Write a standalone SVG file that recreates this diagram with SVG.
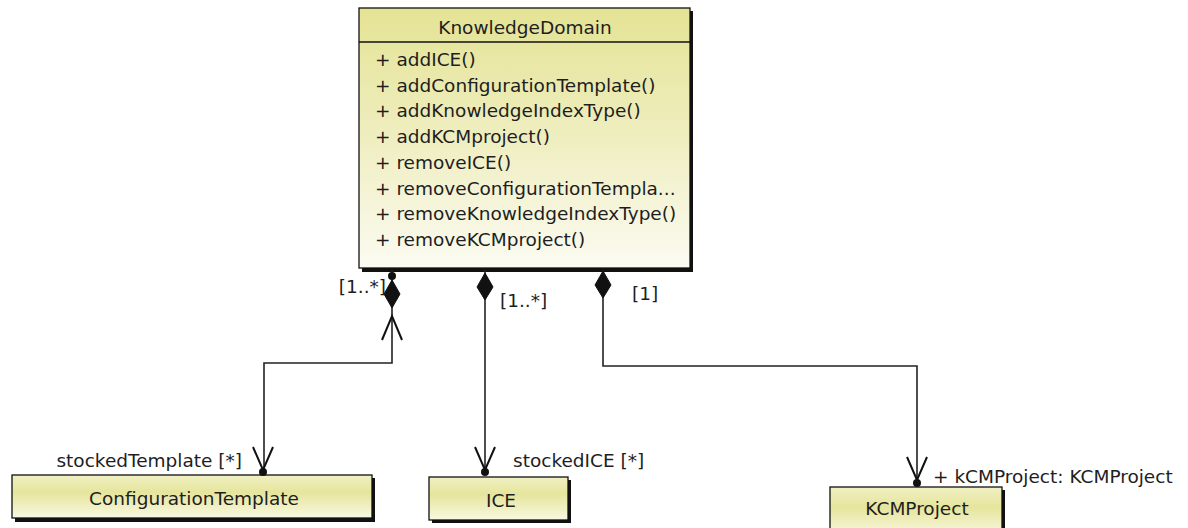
<svg xmlns="http://www.w3.org/2000/svg" width="1188" height="528" viewBox="0 0 1188 528">
<style>
text{font-family:"DejaVu Sans","Liberation Sans",sans-serif;font-size:18.5px;fill:#1e1e1e}
.c{text-anchor:middle}
.box{stroke:#111;stroke-width:1.3}
.sh{fill:#111}
.ln{fill:none;stroke:#222;stroke-width:1.6}
.arr{fill:none;stroke:#111;stroke-width:2}
.dm{fill:#111;stroke:#111;stroke-width:1}
</style>
<defs>
<linearGradient id="g1" x1="0" y1="0" x2="0" y2="1">
<stop offset="0" stop-color="#e4e394"/>
<stop offset="0.5" stop-color="#efeec0"/>
<stop offset="1" stop-color="#fbfbf2"/>
</linearGradient>
<linearGradient id="g2" x1="0" y1="0" x2="0" y2="1">
<stop offset="0" stop-color="#f0f0c4"/>
<stop offset="0.4" stop-color="#e6e59c"/>
<stop offset="1" stop-color="#f8f8e2"/>
</linearGradient>
</defs>
<rect width="1188" height="528" fill="#fff"/>
<g id="KnowledgeDomain">
<rect class="sh" x="362" y="11" width="331" height="261"/>
<rect class="box" x="359" y="8" width="331" height="260" fill="url(#g1)"/>
<line x1="359" y1="42" x2="690" y2="42" stroke="#111" stroke-width="1.3"/>
<text class="c" x="525" y="34">KnowledgeDomain</text>
<text x="375" y="66">+ addICE()</text>
<text x="375" y="91.7">+ addConfigurationTemplate()</text>
<text x="375" y="117.4">+ addKnowledgeIndexType()</text>
<text x="375" y="143">+ addKCMproject()</text>
<text x="375" y="168.8">+ removeICE()</text>
<text x="375" y="194.5">+ removeConfigurationTempla...</text>
<text x="375" y="220">+ removeKnowledgeIndexType()</text>
<text x="375" y="246">+ removeKCMproject()</text>
</g>
<g id="ConfigurationTemplate">
<rect class="sh" x="15" y="478" width="360" height="44"/>
<rect class="box" x="12" y="475" width="360" height="43" fill="url(#g2)"/>
<text class="c" x="194" y="505">ConfigurationTemplate</text>
</g>
<g id="ICE">
<rect class="sh" x="432" y="480" width="139" height="43"/>
<rect class="box" x="429" y="477" width="139" height="43" fill="url(#g2)"/>
<text class="c" x="501" y="507">ICE</text>
</g>
<g id="KCMProject">
<rect class="sh" x="833" y="490" width="172" height="50"/>
<rect class="box" x="830" y="487" width="172" height="50" fill="url(#g2)"/>
<text class="c" x="917" y="515">KCMProject</text>
</g>
<g id="connectors">
<path class="ln" d="M392 270 V363 H264 V472"/>
<circle cx="392" cy="276" r="4" fill="#111"/>
<polygon class="dm" points="392,280 400,294 392,308 384,294"/>
<polyline class="arr" points="382,340 392,316 402,340"/>
<polyline class="arr" points="253,447 263,470 273,447"/>
<circle cx="263" cy="472" r="4" fill="#111"/>
<text x="386" y="293" text-anchor="end">[1..*]</text>
<text x="242" y="467" text-anchor="end">stockedTemplate [*]</text>

<path class="ln" d="M485 270 V474"/>
<polygon class="dm" points="485,273 493,287 485,300 477,287"/>
<polyline class="arr" points="475,447 485,470 495,447"/>
<circle cx="485" cy="472" r="4" fill="#111"/>
<text x="500" y="307">[1..*]</text>
<text x="513" y="467">stockedICE [*]</text>

<path class="ln" d="M603 270 V366 H917 V485"/>
<polygon class="dm" points="603,271 611,285 603,298 595,285"/>
<polyline class="arr" points="907,457 917,480 927,457"/>
<circle cx="917" cy="483" r="4" fill="#111"/>
<text x="632" y="300">[1]</text>
<text x="933" y="483">+ kCMProject: KCMProject</text>
</g>
</svg>
